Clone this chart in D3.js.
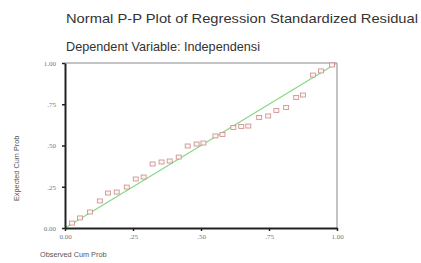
<!DOCTYPE html>
<html>
<head>
<meta charset="utf-8">
<script src="https://cdn.jsdelivr.net/npm/d3@7"></script>
<style>
  body { margin: 0; background: #fff; }
  svg { display: block; font-family: "Liberation Sans", Arial, sans-serif; }
</style>
</head>
<body>
<svg id="chart" width="421" height="263"></svg>
<script>
// observed cum prob / expected cum prob
var observed = [0.026, 0.055, 0.092, 0.128, 0.158, 0.190, 0.227, 0.260, 0.289, 0.322,
                0.355, 0.385, 0.418, 0.451, 0.484, 0.509, 0.553, 0.579, 0.619, 0.648,
                0.674, 0.714, 0.747, 0.777, 0.813, 0.850, 0.875, 0.912, 0.941, 0.982];
var expected = [0.030, 0.061, 0.097, 0.164, 0.212, 0.218, 0.248, 0.297, 0.309, 0.388,
                0.400, 0.406, 0.430, 0.497, 0.509, 0.515, 0.558, 0.567, 0.609, 0.615,
                0.618, 0.670, 0.679, 0.712, 0.730, 0.791, 0.806, 0.927, 0.952, 0.988];
var xTicks = [0, 0.25, 0.5, 0.75, 1];
var xTickLabels = ["0.00", ".25", ".50", ".75", "1.00"];
var yTicks = [0, 0.25, 0.5, 0.75, 1];
var yTickLabels = ["0.00", ".25", ".50", ".75", "1.00"];
var title1 = "Normal P-P Plot of Regression Standardized Residual";
var title2 = "Dependent Variable: Independensi";
var xTitle = "Observed Cum Prob";
var yTitle = "Expected Cum Prob";

var svg = d3.select("#chart");
var margin = {top: 63, left: 65},
    width = 272,
    height = 165,
    g = svg.append("g").attr("transform", "translate(" + margin.left + "," + margin.top + ")");

var x = d3.scaleLinear().domain([0, 1]).range([0, width]);
var y = d3.scaleLinear().domain([0, 1]).range([height, 0]);

// titles (the original text is stretched wide)
svg.append("text").attr("x", 66).attr("y", 23)
  .attr("font-size", 13).attr("fill", "#333")
  .attr("textLength", 352).attr("lengthAdjust", "spacingAndGlyphs").text(title1);
svg.append("text").attr("x", 66).attr("y", 51)
  .attr("font-size", 13).attr("fill", "#333")
  .attr("textLength", 194).attr("lengthAdjust", "spacingAndGlyphs").text(title2);

// frame top / right
g.append("line").attr("x1", 0).attr("x2", width).attr("y1", 0).attr("y2", 0)
  .attr("stroke", "#888").attr("stroke-width", 1);
g.append("line").attr("x1", width).attr("x2", width).attr("y1", 0).attr("y2", height)
  .attr("stroke", "#888").attr("stroke-width", 1);

// reference line
g.append("line")
  .attr("x1", x(0)).attr("y1", y(0)).attr("x2", x(1)).attr("y2", y(1))
  .attr("stroke", "#86d886").attr("stroke-width", 1.2);

// axes
var xAxis = g.append("g")
  .attr("transform", "translate(0," + height + ")")
  .call(d3.axisBottom(x).tickValues(xTicks)
    .tickFormat(function(d, i) { return xTickLabels[i]; })
    .tickSizeInner(3).tickSizeOuter(0).tickPadding(3));
var yAxis = g.append("g")
  .call(d3.axisLeft(y).tickValues(yTicks)
    .tickFormat(function(d, i) { return yTickLabels[i]; })
    .tickSizeInner(3).tickSizeOuter(0).tickPadding(6));

[xAxis, yAxis].forEach(function(a) {
  a.select(".domain").attr("stroke", "#222").attr("stroke-width", 2);
  a.selectAll(".tick line").attr("stroke", "#222").attr("stroke-width", 1.5);
  a.selectAll(".tick text").attr("font-size", 7).attr("fill", "#777")
    .attr("font-family", "'Liberation Serif', serif");
});

// points
var pts = observed.map(function(d, i) { return {o: d, e: expected[i]}; });
g.selectAll(".dot")
  .data(pts)
  .enter().append("rect")
    .attr("class", "dot")
    .attr("x", function(d) { return x(d.o) - 2.5; })
    .attr("y", function(d) { return y(d.e) - 2; })
    .attr("width", 5)
    .attr("height", 4)
    .attr("fill", "#fff4f0")
    .attr("stroke", "#c98a8a")
    .attr("stroke-width", 0.8);

// axis titles
svg.append("text").attr("x", 40).attr("y", 257)
  .attr("font-size", 7.3).attr("fill", "#555").text(xTitle);
svg.append("text")
  .attr("transform", "translate(19,201) rotate(-90)")
  .attr("font-size", 7.3).attr("fill", "#555").text(yTitle);
</script>
</body>
</html>
